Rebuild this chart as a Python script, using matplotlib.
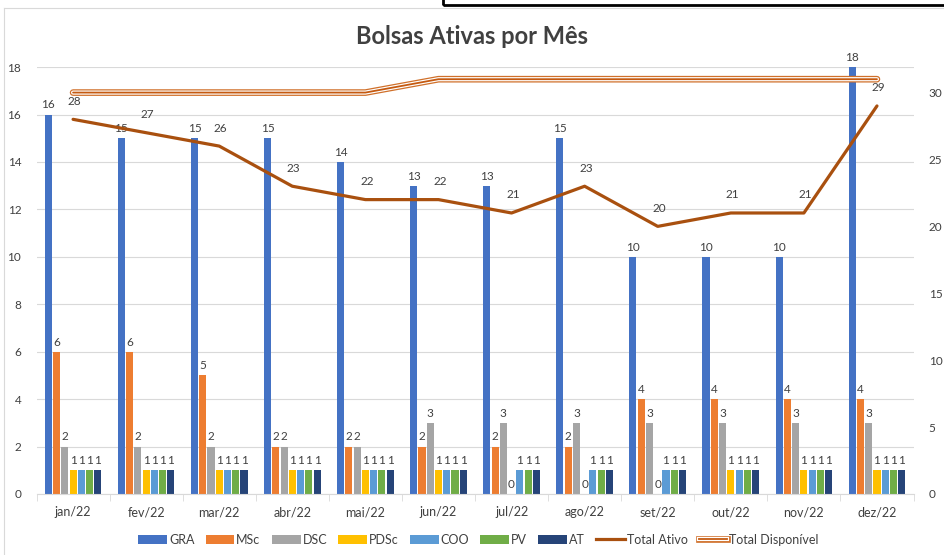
import matplotlib.pyplot as plt
import numpy as np
from matplotlib.lines import Line2D
from matplotlib.patches import Rectangle

plt.rcParams['font.family'] = ['Liberation Sans Narrow', 'Lato', 'DejaVu Sans']

meses = ['jan/22', 'fev/22', 'mar/22', 'abr/22', 'mai/22', 'jun/22',
         'jul/22', 'ago/22', 'set/22', 'out/22', 'nov/22', 'dez/22']
gra = [16, 15, 15, 15, 14, 13, 13, 15, 10, 10, 10, 18]
msc = [6, 6, 5, 2, 2, 2, 2, 2, 4, 4, 4, 4]
dsc = [2, 2, 2, 2, 2, 3, 3, 3, 3, 3, 3, 3]
pdsc = [1, 1, 1, 1, 1, 1, 0, 0, 0, 1, 1, 1]
coo = [1, 1, 1, 1, 1, 1, 1, 1, 1, 1, 1, 1]
pv = [1, 1, 1, 1, 1, 1, 1, 1, 1, 1, 1, 1]
at = [1, 1, 1, 1, 1, 1, 1, 1, 1, 1, 1, 1]
total_ativo = [28, 27, 26, 23, 22, 22, 21, 23, 20, 21, 21, 29]
total_disp = [30, 30, 30, 30, 30, 31, 31, 31, 31, 31, 31, 31]

series = [('GRA', gra, '#4472C4'), ('MSc', msc, '#ED7D31'), ('DSC', dsc, '#A5A5A5'),
          ('PDSc', pdsc, '#FFC000'), ('COO', coo, '#5B9BD5'), ('PV', pv, '#70AD47'),
          ('AT', at, '#264478')]

txt = '#404040'
fig = plt.figure(figsize=(9.44, 5.55), dpi=100)
ax = fig.add_axes([0.0387, 0.110, 0.929, 0.769])
ax2 = ax.twinx()

x = np.arange(len(meses))
step = 0.113
w = 0.097
handles = []
for i, (nome, vals, cor) in enumerate(series):
    b = ax.bar(x + (i - 3) * step, vals, width=w, color=cor, label=nome, zorder=2)
    ax.bar_label(b, padding=3, fontsize=8.5, color=txt)
    handles.append(b)

ax.set_xlim(-0.5, len(meses) - 0.5)
ax.set_ylim(0, 18)
ax.set_yticks(np.arange(0, 19, 2))
ax.grid(axis='y', color='#D9D9D9', lw=0.8, zorder=0)
ax.set_axisbelow(True)
ax.set_xticks(x)
ax.set_xticklabels(meses, fontsize=9, color=txt)
ax.set_xticks(np.arange(-0.5, len(meses), 1), minor=True)
ax.tick_params(axis='x', which='major', length=0, pad=9)
ax.tick_params(axis='x', which='minor', length=5, color='#D9D9D9')
ax.tick_params(axis='y', length=0, labelsize=8.5, labelcolor=txt, pad=11)
for s in ['top', 'left', 'right']:
    ax.spines[s].set_visible(False)
    ax2.spines[s].set_visible(False)
ax.spines['bottom'].set_color('#D9D9D9')
ax2.spines['bottom'].set_visible(False)

# linhas no eixo secundario
ax2.plot(x, total_disp, color='#D0702A', lw=4.8, solid_capstyle='round', zorder=3)
ax2.plot(x, total_disp, color='white', lw=3.0, solid_capstyle='round', zorder=3)
ax2.plot(x, total_disp, color='#C55A11', lw=1.3, solid_capstyle='round', zorder=3)
ax2.plot(x, total_ativo, color='#A9500F', lw=2.3, solid_capstyle='round', zorder=4)
for xi, v in zip(x, total_ativo):
    ax2.annotate(str(v), (xi, v), xytext=(1, 13), textcoords='offset points',
                 ha='center', va='center', fontsize=8.5, color=txt)
ax2.set_ylim(0, 31.9)
ax2.set_yticks(np.arange(0, 31, 5))
ax2.tick_params(axis='y', length=0, labelsize=8.5, labelcolor=txt, pad=11)

fig.text(0.5, 0.935, 'Bolsas Ativas por Mês', ha='center', va='center',
         fontsize=17, fontweight='bold', color=txt)

h_ativo = Line2D([], [], color='#A9500F', lw=2.3)
h_disp = (Line2D([], [], color='#D0702A', lw=4.8),
          Line2D([], [], color='white', lw=3.0),
          Line2D([], [], color='#C55A11', lw=1.3))
labels = [s[0] for s in series] + ['Total Ativo', 'Total Disponível']
fig.legend(handles + [h_ativo, h_disp], labels, loc='center', bbox_to_anchor=(0.507, 0.027),
           ncol=9, frameon=False, fontsize=9, labelcolor=txt, handlelength=2.3,
           handleheight=0.8, handletextpad=0.15, columnspacing=0.9)

# moldura do grafico e caixa acima
fig.add_artist(Line2D([4 / 944, 4 / 944], [0, 1 - 8 / 555], color='#D9D9D9', lw=0.8))
fig.add_artist(Line2D([4 / 944, 1], [1 - 8 / 555, 1 - 8 / 555], color='#D9D9D9', lw=0.8))
fig.add_artist(Rectangle((443 / 944, 1 - 5 / 555), 0.6, 0.05, fill=False,
                         edgecolor='black', lw=2, transform=fig.transFigure))

fig.savefig('out.png', dpi=100)
